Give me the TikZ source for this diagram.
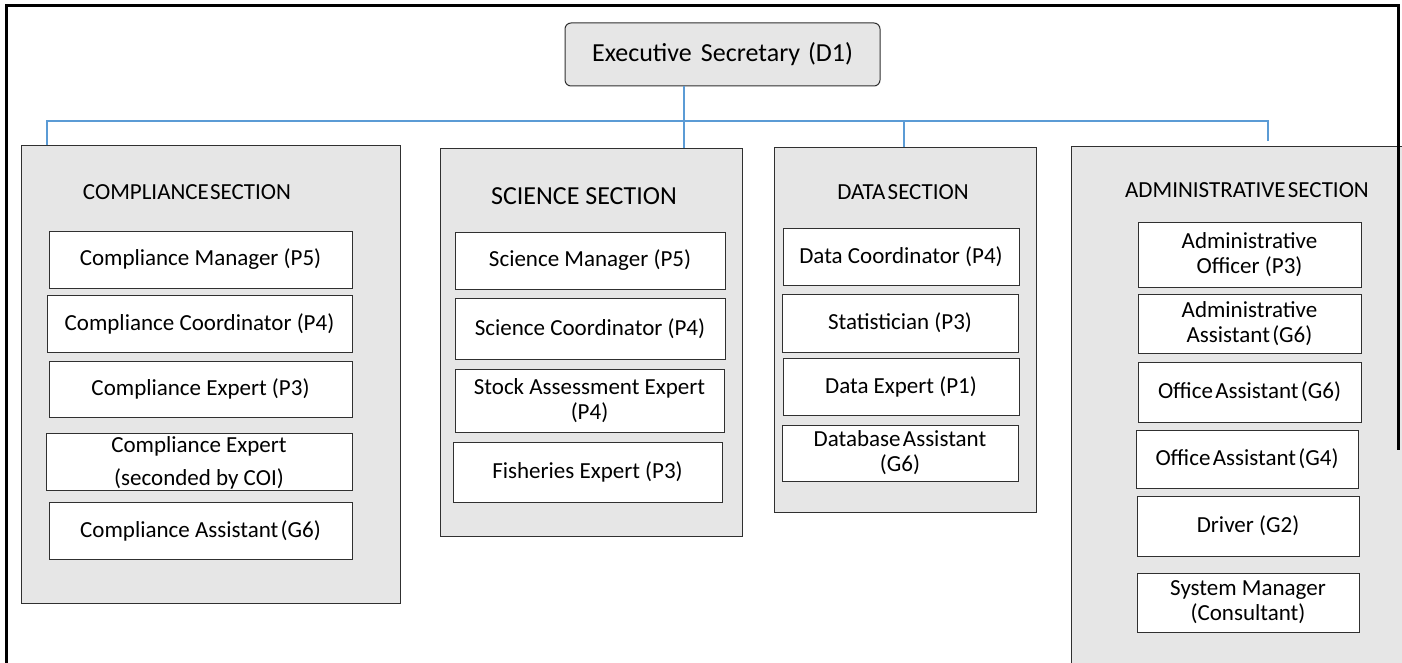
\documentclass[tikz,border=0pt]{standalone}
\usepackage{fontspec}
\setmainfont{Carlito}
\definecolor{secfill}{HTML}{E6E6E6}
\definecolor{edgegray}{HTML}{303030}
\definecolor{connblue}{HTML}{5B9BD5}
\tikzset{
  section/.style={draw=edgegray, fill=secfill, line width=1pt},
  rolebox/.style={draw=edgegray, fill=white, line width=1pt, align=center, inner sep=0pt,
    font=\fontsize{23}{25}\selectfont},
  sectitle/.style={inner sep=0pt, font=\fontsize{23}{25}\selectfont},
  conn/.style={draw=connblue, line width=1.2pt},
  frame/.style={draw=black, line width=3pt}
}
\newcommand\orgbox[6][rolebox]{%
  \path (#3,#4) -- (#5,#6) node[midway, #1, minimum width={#5-#3}, minimum height={#6-#4}] (#2) {};}
\begin{document}
\begin{tikzpicture}[x=1pt,y=-1pt]
\useasboundingbox (0,0) rectangle (1402,663);
\clip (0,0) rectangle (1402,663);
% outer frame
\draw[frame] (6,670) -- (6,6) -- (1398.5,6) -- (1398.5,150);
% top node
\node[draw=edgegray, fill=secfill, line width=1pt, rounded corners=6pt, minimum width=315, minimum height=63,
  inner sep=0pt, font=\fontsize{26}{28}\selectfont] (exec) at (722.5,54.5) {Executive\hspace{0.35em}Secretary\hspace{0.3em}(D1)};
% sections
\orgbox[section]{comp}{21}{146}{400}{603}
\orgbox[section]{sci}{440}{149}{742}{536}
\orgbox[section]{data}{774}{148}{1036}{512}
\orgbox[section]{adm}{1071}{147}{1420}{700}
\draw[frame] (1398.5,146) -- (1398.5,450);
% titles
\node[sectitle] (compt) at (187,192) {COMPLIANCE\hspace{0.05em}SECTION};
\node[sectitle, font=\fontsize{26}{28}\selectfont] (scit) at (584,196) {SCIENCE SECTION};
\node[sectitle] (datat) at (903,192) {DATA\hspace{0.1em}SECTION};
\node[sectitle] (admt) at (1247,190) {ADMINISTRATIVE\hspace{0.1em}SECTION};
% compliance roles
\orgbox{c1}{49}{231}{352}{288}
\node[rolebox, draw=none, fill=none] at (c1) {Compliance Manager (P5)};
\orgbox{c2}{47}{295}{352}{352}
\node[rolebox, draw=none, fill=none] at (c2) {Compliance Coordinator (P4)};
\orgbox{c3}{49}{361}{352}{417}
\node[rolebox, draw=none, fill=none] at (c3) {Compliance Expert (P3)};
\orgbox{c4}{46}{433}{352}{490}
\node[rolebox, draw=none, fill=none, font=\fontsize{23}{33}\selectfont] at ([yshift=-1]c4) {Compliance Expert\\(seconded by COI)};
\orgbox{c5}{49}{502}{352}{559}
\node[rolebox, draw=none, fill=none] at (c5) {Compliance Assistant\hspace{0.1em}(G6)};
% science roles
\orgbox{s1}{455}{232}{725}{289}
\node[rolebox, draw=none, fill=none] at (s1) {Science Manager (P5)};
\orgbox{s2}{455}{298}{725}{359}
\node[rolebox, draw=none, fill=none] at (s2) {Science Coordinator (P4)};
\orgbox{s3}{455}{369}{724}{432}
\node[rolebox, draw=none, fill=none] at (s3) {Stock Assessment Expert\\(P4)};
\orgbox{s4}{453}{442}{722}{502}
\node[rolebox, draw=none, fill=none] at (s4) {Fisheries Expert (P3)};
% data roles
\orgbox{d1}{783}{228}{1019}{285}
\node[rolebox, draw=none, fill=none] at (d1) {Data Coordinator (P4)};
\orgbox{d2}{782}{294}{1018}{352}
\node[rolebox, draw=none, fill=none] at (d2) {Statistician (P3)};
\orgbox{d3}{783}{358}{1019}{415}
\node[rolebox, draw=none, fill=none] at (d3) {Data Expert (P1)};
\orgbox{d4}{782}{425}{1018}{481}
\node[rolebox, draw=none, fill=none] at (d4) {Database\hspace{0.1em}Assistant\\(G6)};
% admin roles
\orgbox{a1}{1138}{222}{1361}{287}
\node[rolebox, draw=none, fill=none] at (a1) {Administrative\\Officer (P3)};
\orgbox{a2}{1138}{294}{1361}{353}
\node[rolebox, draw=none, fill=none] at (a2) {Administrative\\Assistant\hspace{0.1em}(G6)};
\orgbox{a3}{1138}{362}{1361}{422}
\node[rolebox, draw=none, fill=none] at (a3) {Office\hspace{0.1em}Assistant\hspace{0.1em}(G6)};
\orgbox{a4}{1136}{430}{1358}{488}
\node[rolebox, draw=none, fill=none] at (a4) {Office\hspace{0.1em}Assistant\hspace{0.1em}(G4)};
\orgbox{a5}{1137}{496}{1359}{556}
\node[rolebox, draw=none, fill=none] at (a5) {Driver (G2)};
\orgbox{a6}{1137}{573}{1359}{632}
\node[rolebox, draw=none, fill=none] at (a6) {System Manager\\(Consultant)};
% connectors
\coordinate (bus) at (684,121);
\coordinate (admdrop) at (1268,141);
\draw[conn] (exec.south -| bus) -- (sci.north -| bus);
\draw[conn] (comp.north -| 47,0) -- (47,121) -- (bus |- 0,121) -- (admdrop |- bus) -- (admdrop);
\draw[conn] (data.north -| 904,0) -- (904,121);
\end{tikzpicture}
\end{document}
